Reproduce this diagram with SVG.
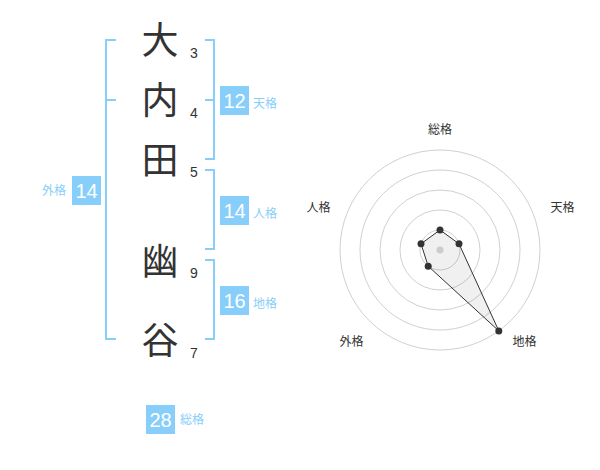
<svg xmlns="http://www.w3.org/2000/svg" width="600" height="470" viewBox="0 0 600 470">
<style>
.kanji{font-family:"Noto Sans CJK JP","Noto Sans CJK SC",sans-serif;font-size:37px;fill:#333;text-anchor:middle}
.num{font-family:"Liberation Sans",Arial,sans-serif;font-size:14px;fill:#333}
.br{fill:none;stroke:#87cefa;stroke-width:2}
.box{fill:#87cefa}
.bv{font-family:"Liberation Sans",Arial,sans-serif;font-size:20px;fill:#fff;text-anchor:middle}
.bl{font-family:"Noto Sans CJK JP",sans-serif;font-size:12px;fill:#87cefa}
.ax{font-family:"Noto Sans CJK JP",sans-serif;font-size:12px;fill:#333;text-anchor:middle}
.ring{fill:none;stroke:#d0d0d0;stroke-width:1}
.pt{fill:#333}
</style>
<rect width="600" height="470" fill="#fff"/>
<g id="name">
<text class="kanji" x="160" y="54">大</text>
<text class="kanji" x="160" y="114">内</text>
<text class="kanji" x="160" y="174">田</text>
<text class="kanji" x="160" y="275">幽</text>
<text class="kanji" x="160" y="354">谷</text>
<text class="num" x="190" y="58">3</text>
<text class="num" x="190" y="118">4</text>
<text class="num" x="190" y="177">5</text>
<text class="num" x="190" y="278">9</text>
<text class="num" x="190" y="358">7</text>
</g>
<g id="connectors">
<path class="br" d="M116,40 H106 V339 H116 M106,100 H116"/>
<path class="br" d="M205,40 H214 V159 H205 M205,100 H214"/>
<path class="br" d="M205,170 H214 V249 H205"/>
<path class="br" d="M205,260 H214 V339 H205"/>
</g>
<g id="tenkaku">
<rect class="box" x="220" y="86" width="29" height="29"/>
<text class="bv" x="234.5" y="107.5">12</text>
<text class="bl" x="253" y="108">天格</text>
</g>
<g id="jinkaku">
<rect class="box" x="220" y="196" width="29" height="29"/>
<text class="bv" x="234.5" y="217.5">14</text>
<text class="bl" x="253" y="218">人格</text>
</g>
<g id="chikaku">
<rect class="box" x="220" y="286" width="29" height="29"/>
<text class="bv" x="234.5" y="307.5">16</text>
<text class="bl" x="253" y="308">地格</text>
</g>
<g id="gaikaku">
<rect class="box" x="72" y="176" width="29" height="29"/>
<text class="bv" x="86.5" y="197.5">14</text>
<text class="bl" x="66" y="195" text-anchor="end">外格</text>
</g>
<g id="soukaku">
<rect class="box" x="146" y="405" width="29" height="29"/>
<text class="bv" x="160.5" y="426.5">28</text>
<text class="bl" x="180" y="424">総格</text>
</g>
<g id="radar">
<circle class="ring" cx="440" cy="250" r="20"/>
<circle class="ring" cx="440" cy="250" r="40"/>
<circle class="ring" cx="440" cy="250" r="60"/>
<circle class="ring" cx="440" cy="250" r="80"/>
<circle class="ring" cx="440" cy="250" r="100"/>
<polygon points="440,230 459,243.8 498.8,330.9 428.2,266.2 421,243.8" fill="#000" fill-opacity="0.06" stroke="#333" stroke-width="1"/>
<circle cx="440" cy="250" r="3.5" fill="#ccc"/>
<circle class="pt" cx="440" cy="230" r="3.5"/>
<circle class="pt" cx="459" cy="243.8" r="3.5"/>
<circle class="pt" cx="498.8" cy="330.9" r="3.5"/>
<circle class="pt" cx="428.2" cy="266.2" r="3.5"/>
<circle class="pt" cx="421" cy="243.8" r="3.5"/>
<text class="ax" x="440" y="134">総格</text>
<text class="ax" x="562.5" y="212">天格</text>
<text class="ax" x="524.5" y="346">地格</text>
<text class="ax" x="351.5" y="346">外格</text>
<text class="ax" x="318.5" y="212">人格</text>
</g>
</svg>
